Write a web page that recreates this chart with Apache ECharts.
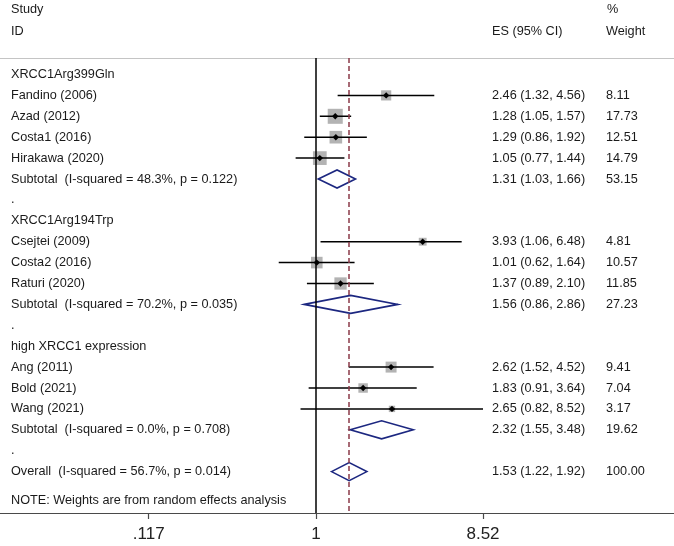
<!DOCTYPE html>
<html lang="en">
	<head>
		<meta charset="UTF-8" />
		<title>Forest plot</title>
		<script src="https://cdn.jsdelivr.net/npm/echarts@6/dist/echarts.min.js"></script>
		<style>
			html, body { margin: 0; padding: 0; background: #fff; }
			#chart { width: 674px; height: 546px; }
		</style>
	</head>
	<body>
		<div id="chart"></div>
		<script>
			const rowLabels = [
				"XRCC1Arg399Gln", "Fandino (2006)", "Azad (2012)", "Costa1 (2016)", "Hirakawa (2020)",
				"Subtotal  (I-squared = 48.3%, p = 0.122)", ".",
				"XRCC1Arg194Trp", "Csejtei (2009)", "Costa2 (2016)", "Raturi (2020)",
				"Subtotal  (I-squared = 70.2%, p = 0.035)", ".",
				"high XRCC1 expression", "Ang (2011)", "Bold (2021)", "Wang (2021)",
				"Subtotal  (I-squared = 0.0%, p = 0.708)", ".",
				"Overall  (I-squared = 56.7%, p = 0.014)"
			];
			const rowKind = [
				"head", "study", "study", "study", "study", "pool", "gap",
				"head", "study", "study", "study", "pool", "gap",
				"head", "study", "study", "study", "pool", "gap",
				"pool"
			];
			const es = [null, 2.46, 1.28, 1.29, 1.05, 1.31, null, null, 3.93, 1.01, 1.37, 1.56, null, null, 2.62, 1.83, 2.65, 2.32, null, 1.53];
			const lo = [null, 1.32, 1.05, 0.86, 0.77, 1.03, null, null, 1.06, 0.62, 0.89, 0.86, null, null, 1.52, 0.91, 0.82, 1.55, null, 1.22];
			const hi = [null, 4.56, 1.57, 1.92, 1.44, 1.66, null, null, 6.48, 1.64, 2.10, 2.86, null, null, 4.52, 3.64, 8.52, 3.48, null, 1.92];
			const weight = [null, 8.11, 17.73, 12.51, 14.79, 53.15, null, null, 4.81, 10.57, 11.85, 27.23, null, null, 9.41, 7.04, 3.17, 19.62, null, 100.0];
			const overallES = 1.53;
			const tickValues = [0.117, 1, 8.52];
			const tickLabels = [".117", "1", "8.52"];
			const note = "NOTE: Weights are from random effects analysis";

			const FONT = "'Liberation Sans', Arial, sans-serif";
			const FS = "12.7px ";
			const TXT = "#1a1a1a";
			const NOTE_ROW = 20.4;
			const lg = (v) => Math.log10(v);

			const chart = echarts.init(document.getElementById("chart"));

			function headerText(x, y, s) {
				return { type: "text", left: x, top: y - 7, style: { text: s, fill: TXT, font: FS + FONT } };
			}

			function renderRow(params, api) {
				const i = api.value(1);
				const y = api.coord([0, i])[1];
				const kids = [];
				const text = i === NOTE_ROW ? note : rowLabels[i];
				kids.push({ type: "text", style: { x: 11, y: y, text: text, fill: TXT, font: FS + FONT, verticalAlign: "middle" } });
				if (i !== NOTE_ROW && es[i] != null) {
					const cx = api.coord([lg(es[i]), i])[0];
					const x0 = api.coord([lg(lo[i]), i])[0];
					const x1 = api.coord([lg(hi[i]), i])[0];
					if (rowKind[i] === "study") {
						const side = 3.57 * Math.sqrt(weight[i]);
						kids.push({ type: "rect", shape: { x: cx - side / 2, y: y - side / 2, width: side, height: side }, style: { fill: "#b3b3b3" } });
						kids.push({ type: "line", shape: { x1: x0, y1: y, x2: x1, y2: y }, style: { stroke: "#000", lineWidth: 1.5 } });
						kids.push({ type: "polygon", shape: { points: [[cx - 3.2, y], [cx, y - 3.2], [cx + 3.2, y], [cx, y + 3.2]] }, style: { fill: "#000" } });
					} else {
						kids.push({ type: "polygon", shape: { points: [[x0, y], [cx, y - 9], [x1, y], [cx, y + 9]] }, style: { fill: "none", stroke: "#1c2780", lineWidth: 1.6 } });
					}
					const ci = es[i].toFixed(2) + " (" + lo[i].toFixed(2) + ", " + hi[i].toFixed(2) + ")";
					kids.push({ type: "text", style: { x: 492, y: y, text: ci, fill: TXT, font: FS + FONT, verticalAlign: "middle" } });
					kids.push({ type: "text", style: { x: 606, y: y, text: weight[i].toFixed(2), fill: TXT, font: FS + FONT, verticalAlign: "middle" } });
				}
				return { type: "group", children: kids };
			}

			const rowData = rowLabels.map((r, i) => [0, i]);
			rowData.push([0, NOTE_ROW]);

			const option = {
				animation: false,
				grid: { left: 0, right: 0, top: 58, bottom: 33 },
				xAxis: [
					{
						type: "value",
						position: "bottom",
						min: -316 / 179.5,
						max: (674 - 316) / 179.5,
						splitLine: { show: false },
						axisLine: { onZero: false, lineStyle: { color: "#4a4a4a", width: 1.2 } },
						axisTick: { customValues: tickValues.map(lg), length: 6, lineStyle: { color: "#4a4a4a", width: 1.2 } },
						axisLabel: {
							customValues: tickValues.map(lg),
							margin: 13,
							fontSize: 17,
							fontFamily: FONT,
							color: "#222",
							formatter: (v) => {
								let k = 0;
								tickValues.forEach((t, j) => { if (Math.abs(lg(t) - v) < Math.abs(lg(tickValues[k]) - v)) k = j; });
								return tickLabels[k];
							}
						}
					},
					{
						type: "value",
						position: "top",
						min: -316 / 179.5,
						max: (674 - 316) / 179.5,
						splitLine: { show: false },
						axisLine: { onZero: false, lineStyle: { color: "#c4c4c4", width: 1.2 } },
						axisTick: { show: false },
						axisLabel: { show: false }
					}
				],
				yAxis: { type: "value", inverse: true, min: (58 - 74.5) / 20.9, max: (513 - 74.5) / 20.9, show: false },
				graphic: [
					headerText(11, 10, "Study"),
					headerText(11, 32, "ID"),
					headerText(492, 32, "ES (95% CI)"),
					headerText(607, 10, "%"),
					headerText(606, 32, "Weight")
				],
				series: [
					{
						type: "line",
						data: [],
						z: 1,
						markLine: {
							symbol: "none",
							silent: true,
							label: { show: false },
							data: [
								{ xAxis: 0, lineStyle: { color: "#000", width: 1.5, type: "solid" } },
								{ xAxis: lg(overallES), lineStyle: { color: "#8b3a48", width: 1.5, type: [5, 3] } }
							]
						}
					},
					{
						type: "custom",
						z: 3,
						clip: false,
						renderItem: renderRow,
						encode: { x: 0, y: 1 },
						data: rowData
					}
				]
			};
			chart.setOption(option);
		</script>
	</body>
</html>
